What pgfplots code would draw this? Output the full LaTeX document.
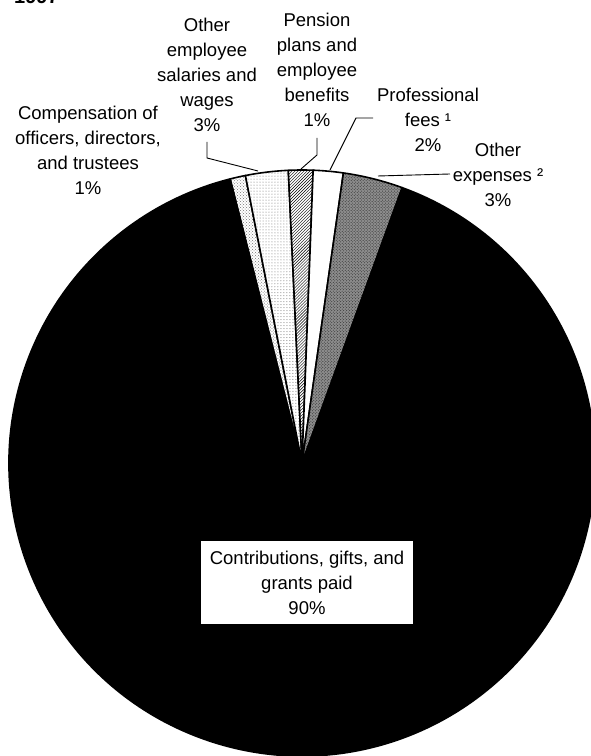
\documentclass[border=0pt]{standalone}
\usepackage{fontspec}
\setmainfont{Liberation Sans}
\usepackage{pgfplots}
\pgfplotsset{compat=1.18}
\usepackage{pgfplotstable}
\usetikzlibrary{patterns}

% share of total expenses, in percent, clockwise from the left edge of the small slices
\pgfplotstableread{
value
0.85
2.35
1.35
1.65
3.30
90.50
}\piedata

\tikzset{
 slice0/.style={preaction={fill=white}, pattern=crosshatch dots, pattern color=black!55},
 slice1/.style={preaction={fill=white}, pattern=dots, pattern color=black!60},
 slice2/.style={preaction={fill=white}, pattern=north east lines, pattern color=black},
 slice3/.style={fill=white},
 slice4/.style={preaction={fill=black!45}, pattern=crosshatch dots, pattern color=black!85},
 slice5/.style={fill=black},
 lab/.style={font=\fontsize{18.5bp}{25bp}\selectfont, align=center, inner sep=0pt},
}
\def\cx{302}\def\cy{293}\def\R{293}

\begin{document}%
\begin{tikzpicture}
\def\cur{104.2}
\pgfplotsforeachungrouped \i in {0,...,5}{%
  \pgfplotstablegetelem{\i}{value}\of\piedata
  \expandafter\xdef\csname sa\i\endcsname{\cur}%
  \pgfmathsetmacro\cur{\cur-3.6*\pgfplotsretval}%
  \expandafter\xdef\csname ea\i\endcsname{\cur}%
}
\begin{axis}[name=ax, scale only axis, width=591bp, height=756bp,
  xmin=0, xmax=591, ymin=0, ymax=756, hide axis, clip=false]
\pgfplotsinvokeforeach{0,...,5}{
  \draw[slice#1, line width=1.6bp, line join=round]
    (axis cs:\cx,\cy) -- ++(\csname sa#1\endcsname:\R bp)
    arc[start angle=\csname sa#1\endcsname, end angle=\csname ea#1\endcsname, radius=\R bp] -- cycle;
}
% leader lines
\draw[line width=0.9bp] (axis cs:207,614) -- (axis cs:207,598) -- (axis cs:258,585);
\draw[line width=0.9bp] (axis cs:317,618) -- (axis cs:317,601) -- (axis cs:301,587);
\draw[line width=0.9bp] (axis cs:373,638) -- (axis cs:356,638) -- (axis cs:330,586);
\draw[line width=0.9bp] (axis cs:450,582) -- (axis cs:378,580);
% labels
\node[lab] at (axis cs:88,606) {Compensation of\\officers, directors,\\and trustees\\1\%};
\node[lab] at (axis cs:207,681) {Other\\employee\\salaries and\\wages\\3\%};
\node[lab] at (axis cs:317,686) {Pension\\plans and\\employee\\benefits\\1\%};
\node[lab] at (axis cs:428,636) {Professional\\fees ¹\\2\%};
\node[lab] at (axis cs:498,581) {Other\\expenses ²\\3\%};
\node[lab, fill=white, minimum width=212bp, minimum height=83bp] at (axis cs:307,173.5)
  {Contributions, gifts, and\\grants paid\\90\%};
\node[anchor=base west, inner sep=0pt, font=\bfseries\fontsize{20bp}{24bp}\selectfont] at (axis cs:14,752) {1997};
\coordinate (BL) at (axis cs:0,0);
\coordinate (TR) at (axis cs:591,756);
\end{axis}
\pgfresetboundingbox
\path[use as bounding box] (BL) rectangle (TR);
\end{tikzpicture}%
\end{document}
